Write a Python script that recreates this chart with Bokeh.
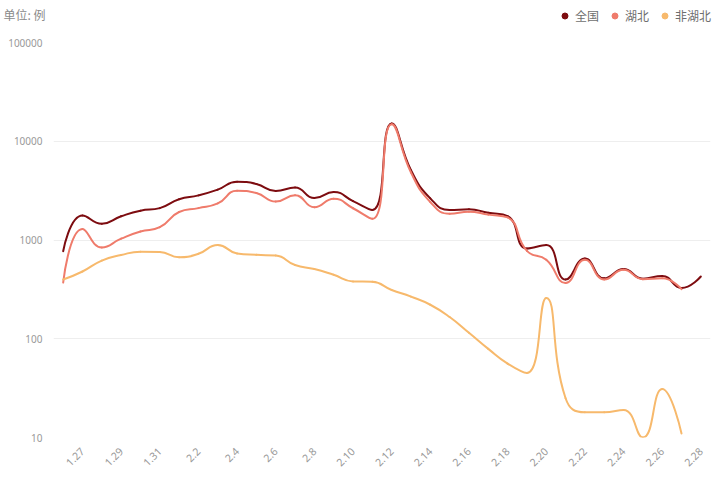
import math
from bokeh.plotting import figure
from bokeh.layouts import column
from bokeh.models import (Range1d, FixedTicker, PrintfTickFormatter, Label,
                          Legend, LegendItem)
from bokeh.embed import file_html
from bokeh.resources import INLINE

# ---------------- data ----------------
dates = ["1.26", "1.27", "1.28", "1.29", "1.30", "1.31",
         "2.1", "2.2", "2.3", "2.4", "2.5", "2.6", "2.7", "2.8", "2.9", "2.10",
         "2.11", "2.12", "2.13", "2.14", "2.15", "2.16", "2.17", "2.18", "2.19",
         "2.20", "2.21", "2.22", "2.23", "2.24", "2.25", "2.26", "2.27", "2.28"]

national = [769, 1771, 1459, 1737, 1982, 2102,
            2590, 2829, 3235, 3887, 3694, 3143, 3399, 2656, 3062, 2478,
            2015, 15152, 5090, 2641, 2009, 2048, 1886, 1749, 820,
            889, 397, 648, 409, 508, 406, 433, 327, 427]

hubei = [371, 1291, 840, 1032, 1220, 1347,
         1921, 2103, 2345, 3156, 2987, 2447, 2841, 2147, 2618, 2097,
         1638, 14840, 4823, 2420, 1843, 1933, 1807, 1693, 775,
         631, 366, 630, 398, 499, 401, 409, 318]

non_hubei = [398, 480, 619, 705, 762, 755,
             669, 726, 890, 731, 707, 696, 558, 509, 444, 381,
             377, 312, 267, 221, 166, 115, 79, 56, 45,
             258, 25, 18, 18, 19, 10, 31, 11]

series_names = ["全国", "湖北", "非湖北"]
series_colors = ["#7d0c10", "#ef7b6b", "#f7b96c"]
y_ticks = [10, 100, 1000, 10000, 100000]
unit_text = "单位: 例"

all_series = [national, hubei, non_hubei]

# ---------------- layout constants (pixels) ----------------
W = 724
HEAD_H = 28                      # header strip with unit text + legend
MAIN_H = 462
FRAME_L, FRAME_R, FRAME_T, FRAME_B = 53, 710, 42, 437   # in page pixels

# ---------------- header (unit label + legend) ----------------
head = figure(width=W, height=HEAD_H, output_backend="svg", toolbar_location=None,
              x_range=Range1d(0, 1), y_range=Range1d(0, 1),
              x_axis_type=None, y_axis_type=None,
              min_border_left=0, min_border_right=0, min_border_top=0,
              min_border_bottom=0, frame_align=False)
head.outline_line_color = None
head.grid.visible = False
head.background_fill_color = "white"
head.border_fill_color = "white"

items = []
for name, col, vals in zip(series_names, series_colors, all_series):
    # legend proxies: not shown in the plot, only their glyph is used in the legend
    r = head.scatter(x=list(range(len(vals))), y=vals, marker="circle", size=6,
                     fill_color=col, line_color=col, visible=False)
    items.append(LegendItem(label=name, renderers=[r]))
legend = Legend(items=items, orientation="horizontal",
                location=(557, HEAD_H - 24),
                glyph_width=15, glyph_height=15, label_standoff=3, spacing=8,
                padding=0, margin=0, border_line_color=None,
                background_fill_alpha=0, label_height=15,
                inactive_fill_alpha=0, click_policy="none",
                label_text_font="Noto Sans CJK SC", label_text_font_size="12px",
                label_text_color="#6e6e6e")
head.add_layout(legend)

head.add_layout(Label(x=3, y=HEAD_H - 14, x_units="screen", y_units="screen",
                      text=unit_text, text_font="Noto Sans CJK SC",
                      text_font_size="12px", text_color="#8a8a8a",
                      text_baseline="middle"))

# ---------------- main chart ----------------
p = figure(width=W, height=MAIN_H, output_backend="svg", toolbar_location=None,
           y_axis_type="log",
           x_range=Range1d(-0.5, len(dates) - 0.5),
           y_range=Range1d(y_ticks[0], y_ticks[-1]),
           min_border_left=FRAME_L, min_border_right=W - FRAME_R,
           min_border_top=FRAME_T - HEAD_H,
           min_border_bottom=HEAD_H + MAIN_H - FRAME_B, frame_align=False)
p.outline_line_color = None
p.background_fill_color = "white"
p.border_fill_color = "white"

p.xgrid.visible = False
p.ygrid.grid_line_color = "#eeeeee"
p.ygrid.grid_line_width = 1

xa = p.xaxis[0]
xa.ticker = FixedTicker(ticks=list(range(1, len(dates), 2)), minor_ticks=[])
xa.major_label_overrides = {i: dates[i] for i in range(len(dates))}
xa.major_label_orientation = math.pi / 4
xa.axis_line_color = None
xa.major_tick_line_color = None
xa.minor_tick_line_color = None
xa.major_label_text_color = "#999999"
xa.major_label_text_font = "Noto Sans"
xa.major_label_text_font_size = "10.5px"
xa.major_label_standoff = 6

ya = p.yaxis[0]
ya.ticker = FixedTicker(ticks=y_ticks, minor_ticks=[])
ya.formatter = PrintfTickFormatter(format="%d")
ya.axis_line_color = None
ya.major_tick_line_color = None
ya.minor_tick_line_color = None
ya.major_label_text_color = "#999999"
ya.major_label_text_font = "Noto Sans"
ya.major_label_text_font_size = "10px"
ya.major_label_standoff = 5

# ---------------- smooth lines (echarts-like bezier smoothing) ----------------
PX_X, PX_Y = 19.32, 98.75   # px per category / px per decade (shape of smoothing)


def bezier_segments(vals, smooth=0.5):
    n = len(vals)
    X = [i * PX_X for i in range(n)]
    Y = [math.log10(v) * PX_Y for v in vals]
    out = {k: [] for k in ("x0", "y0", "x1", "y1", "cx0", "cy0", "cx1", "cy1")}
    cpx0, cpy0 = X[0], Y[0]
    for k in range(1, n):
        x, y = X[k], Y[k]
        px, py = X[k - 1], Y[k - 1]
        if k == n - 1:
            cpx1, cpy1 = x, y
            ncx, ncy = x, y
        else:
            nx, ny = X[k + 1], Y[k + 1]
            vx, vy = nx - px, ny - py
            lp = math.hypot(x - px, y - py)
            ln = math.hypot(nx - x, ny - y)
            ratio = ln / (ln + lp)
            ncx = x + vx * smooth * ratio
            ncy = y + vy * smooth * ratio
            ncx = max(min(ncx, max(nx, x)), min(nx, x))
            ncy = max(min(ncy, max(ny, y)), min(ny, y))
            vx, vy = ncx - x, ncy - y
            cpx1 = x - vx * lp / ln
            cpy1 = y - vy * lp / ln
            cpx1 = max(min(cpx1, max(px, x)), min(px, x))
            cpy1 = max(min(cpy1, max(py, y)), min(py, y))
            vx, vy = x - cpx1, y - cpy1
            ncx = x + vx * ln / lp
            ncy = y + vy * ln / lp
        out["x0"].append(px / PX_X); out["y0"].append(10 ** (py / PX_Y))
        out["x1"].append(x / PX_X); out["y1"].append(10 ** (y / PX_Y))
        out["cx0"].append(cpx0 / PX_X); out["cy0"].append(10 ** (cpy0 / PX_Y))
        out["cx1"].append(cpx1 / PX_X); out["cy1"].append(10 ** (cpy1 / PX_Y))
        cpx0, cpy0 = ncx, ncy
    return out


for vals, col in zip(all_series, series_colors):
    seg = bezier_segments(vals)
    p.bezier(x0="x0", y0="y0", x1="x1", y1="y1", cx0="cx0", cy0="cy0",
             cx1="cx1", cy1="cy1", source=seg, line_color=col, line_width=2,
             line_cap="round")

layout = column(head, p, spacing=0)
open("out.html", "w").write(file_html(layout, INLINE))
